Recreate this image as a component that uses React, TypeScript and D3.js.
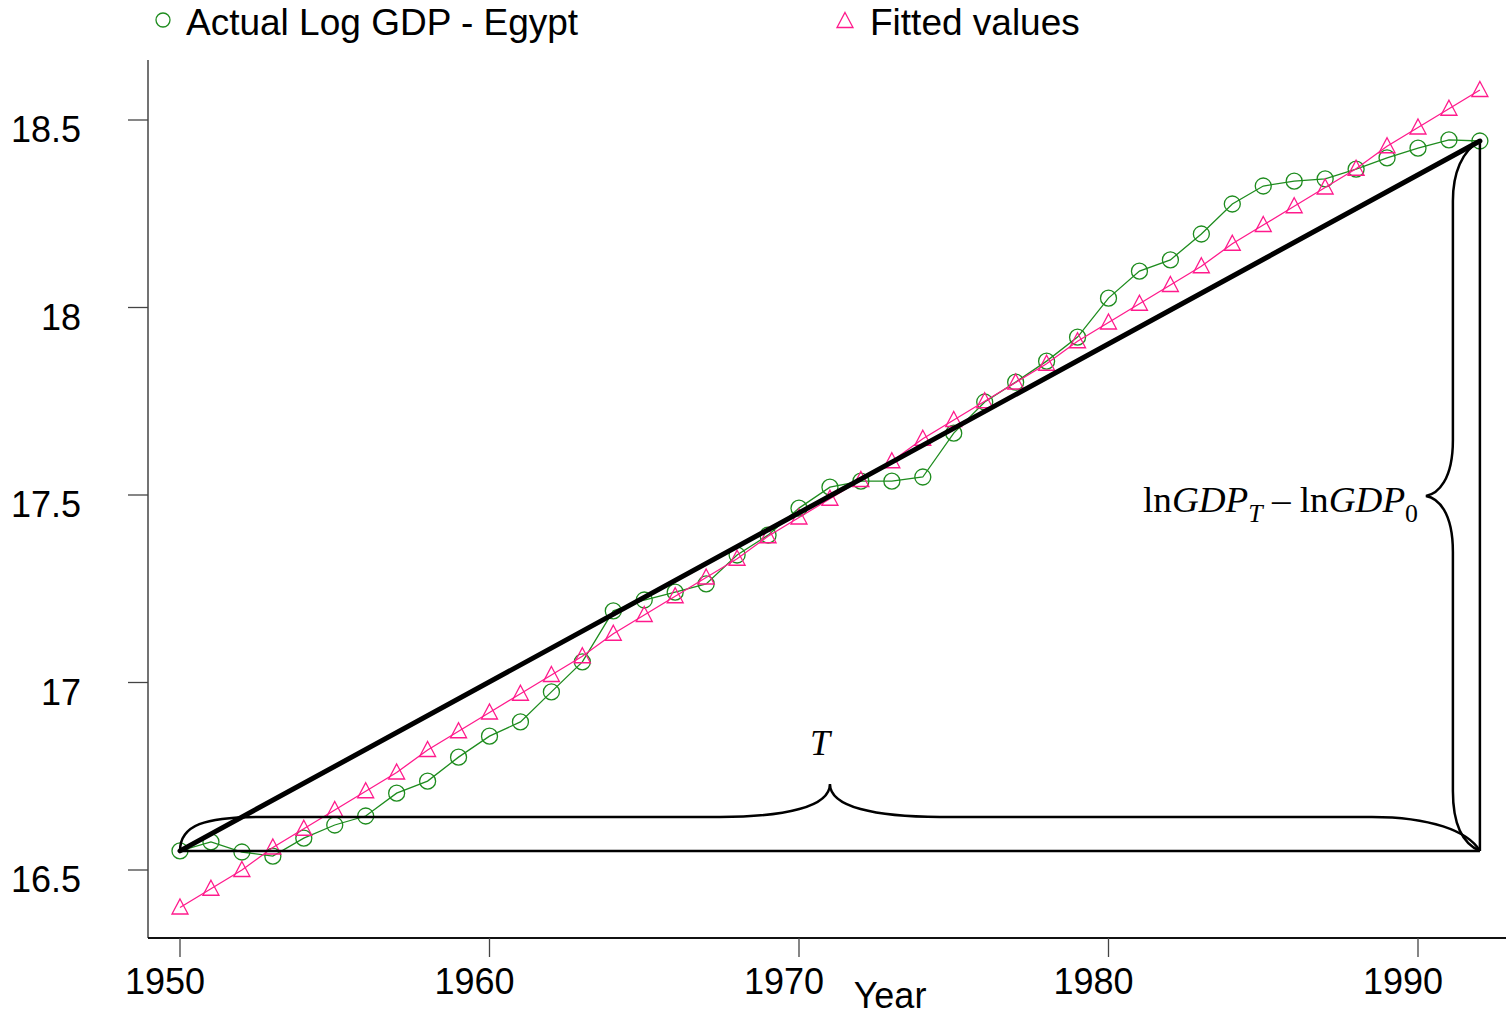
import React from "react";
import * as d3 from "d3";

const years = [1950, 1951, 1952, 1953, 1954, 1955, 1956, 1957, 1958, 1959, 1960, 1961, 1962, 1963, 1964, 1965, 1966, 1967, 1968, 1969, 1970, 1971, 1972, 1973, 1974, 1975, 1976, 1977, 1978, 1979, 1980, 1981, 1982, 1983, 1984, 1985, 1986, 1987, 1988, 1989, 1990, 1991, 1992];

const actualLogGDP = [16.551, 16.575, 16.548, 16.537, 16.585, 16.62, 16.644, 16.705, 16.737, 16.801, 16.857, 16.895, 16.975, 17.055, 17.191, 17.22, 17.241, 17.263, 17.34, 17.393, 17.465, 17.521, 17.537, 17.537, 17.548, 17.665, 17.748, 17.801, 17.857, 17.921, 18.025, 18.097, 18.127, 18.196, 18.276, 18.324, 18.337, 18.343, 18.369, 18.399, 18.425, 18.447, 18.444];

const fittedValues = [16.40, 16.45, 16.50, 16.56, 16.61, 16.66, 16.71, 16.76, 16.82, 16.87, 16.92, 16.97, 17.02, 17.07, 17.13, 17.18, 17.23, 17.28, 17.33, 17.39, 17.44, 17.49, 17.54, 17.59, 17.65, 17.70, 17.75, 17.80, 17.85, 17.91, 17.96, 18.01, 18.06, 18.11, 18.17, 18.22, 18.27, 18.32, 18.37, 18.43, 18.48, 18.53, 18.58];

const xTicks = [1950, 1960, 1970, 1980, 1990];
const yTicks = [16.5, 17, 17.5, 18, 18.5];
const yTickLabels = ["16.5", "17", "17.5", "18", "18.5"];
const legendLabels = ["Actual Log GDP - Egypt", "Fitted values"];
const xTitle = "Year";

const GREEN = "#1e8c1e";
const PINK = "#ff1a8c";
const SANS = "'Liberation Sans', Arial, Helvetica, sans-serif";
const SERIF = "'Liberation Serif', 'Times New Roman', serif";

function triPath(cx: number, cy: number) {
  return `M${cx},${cy - 8.5} L${cx + 8},${cy + 6.5} L${cx - 8},${cy + 6.5} Z`;
}

export default function App() {
  const W = 1506;
  const H = 1015;
  const x = d3.scaleLinear().domain([1950, 1990]).range([180, 1418]);
  const y = d3.scaleLinear().domain([16.5, 18.5]).range([870, 120]);

  const axisLeftX = 148;
  const axisBottomY = 938;
  const axisTopY = 60;

  const actualPts = years.map((yr, i) => [x(yr), y(actualLogGDP[i])] as [number, number]);
  const fittedPts = years.map((yr, i) => [x(yr), y(fittedValues[i])] as [number, number]);
  const line = d3.line<[number, number]>();

  const n = years.length - 1;
  const x0 = x(years[0]);
  const x1 = x(years[n]);
  const y0 = y(actualLogGDP[0]);
  const y1 = y(actualLogGDP[n]);

  // horizontal brace (below thick line, pointing up)
  const xc = (x0 + x1) / 2;
  const yf = y0 - 34;
  const ym = y0 - 67;
  const hBrace =
    `M${x0},${y0} C${x0},${y0 - 26} ${x0 + 25},${yf} ${x0 + 80},${yf} ` +
    `L${xc - 110},${yf} C${xc - 45},${yf} ${xc},${yf - 10} ${xc},${ym} ` +
    `C${xc},${yf - 10} ${xc + 45},${yf} ${xc + 110},${yf} ` +
    `L${x1 - 108},${yf} C${x1 - 50},${yf} ${x1 - 12},${y0 - 20} ${x1},${y0}`;

  // vertical brace (left of vertical line, pointing left)
  const yc = (y0 + y1) / 2;
  const xf = x1 - 27;
  const xm = x1 - 54;
  const vBrace =
    `M${x1},${y1} C${x1 - 18},${y1 + 10} ${xf},${y1 + 32} ${xf},${y1 + 60} ` +
    `L${xf},${yc - 56} C${xf},${yc - 16} ${xm + 12},${yc - 2} ${xm},${yc} ` +
    `C${xm + 12},${yc + 2} ${xf},${yc + 16} ${xf},${yc + 56} ` +
    `L${xf},${y0 - 60} C${xf},${y0 - 22} ${x1 - 14},${y0 - 6} ${x1},${y0}`;

  return (
    <svg
      width={W}
      height={H}
      viewBox={`0 0 ${W} ${H}`}
      style={{ position: "absolute", left: 0, top: 0, background: "#fff" }}
    >
      <rect x={0} y={0} width={W} height={H} fill="#fff" />

      {/* Legend */}
      <circle cx={163} cy={20} r={7} fill="none" stroke={GREEN} strokeWidth={1.3} />
      <text x={186} y={35} fontFamily={SANS} fontSize={37} fill="#000">
        {legendLabels[0]}
      </text>
      <path d={triPath(845, 21)} fill="none" stroke={PINK} strokeWidth={1.3} />
      <text x={870} y={35} fontFamily={SANS} fontSize={37} fill="#000">
        {legendLabels[1]}
      </text>

      {/* Axes */}
      <line x1={axisLeftX} y1={axisTopY} x2={axisLeftX} y2={axisBottomY} stroke="#444" strokeWidth={1.5} />
      <line x1={axisLeftX} y1={axisBottomY} x2={W} y2={axisBottomY} stroke="#111" strokeWidth={1.8} />
      {yTicks.map((t, i) => (
        <g key={"yt" + t}>
          <line x1={128} x2={axisLeftX} y1={y(t)} y2={y(t)} stroke="#444" strokeWidth={1.3} />
          <text x={81} y={y(t) + 22} textAnchor="end" fontFamily={SANS} fontSize={36} fill="#000">
            {yTickLabels[i]}
          </text>
        </g>
      ))}
      {xTicks.map((t) => (
        <g key={"xt" + t}>
          <line x1={x(t)} x2={x(t)} y1={axisBottomY} y2={axisBottomY + 19} stroke="#444" strokeWidth={1.3} />
          <text x={x(t) - 15} y={994} textAnchor="middle" fontFamily={SANS} fontSize={36} fill="#000">
            {t}
          </text>
        </g>
      ))}
      <text x={890} y={1008} textAnchor="middle" fontFamily={SANS} fontSize={36} fill="#000">
        {xTitle}
      </text>

      {/* Series */}
      <path d={line(actualPts) || ""} fill="none" stroke={GREEN} strokeWidth={1.3} />
      {actualPts.map(([px, py], i) => (
        <circle key={"a" + i} cx={px} cy={py} r={8} fill="none" stroke={GREEN} strokeWidth={1.3} />
      ))}
      <path d={line(fittedPts) || ""} fill="none" stroke={PINK} strokeWidth={1.3} />
      {fittedPts.map(([px, py], i) => (
        <path key={"f" + i} d={triPath(px, py)} fill="none" stroke={PINK} strokeWidth={1.3} />
      ))}

      {/* Annotation: triangle */}
      <line x1={x0} y1={y0} x2={x1} y2={y0} stroke="#000" strokeWidth={2.5} />
      <line x1={x1} y1={y1} x2={x1} y2={y0} stroke="#000" strokeWidth={2.5} />
      <path d={hBrace} fill="none" stroke="#000" strokeWidth={2.5} />
      <path d={vBrace} fill="none" stroke="#000" strokeWidth={2.5} />
      <line x1={x0} y1={y0} x2={x1} y2={y1} stroke="#000" strokeWidth={5} strokeLinecap="round" />

      <text x={xc - 10} y={755} textAnchor="middle" fontFamily={SERIF} fontStyle="italic" fontSize={36} fill="#000">
        T
      </text>
      <text
        x={1418}
        y={512}
        textAnchor="end"
        fontFamily={SERIF}
        fontSize={36}
        fill="#000"
        textLength={275}
        lengthAdjust="spacingAndGlyphs"
      >
        <tspan>ln</tspan>
        <tspan fontStyle="italic">GDP</tspan>
        <tspan fontStyle="italic" fontSize={25} dy={10}>T</tspan>
        <tspan dy={-10}> – ln</tspan>
        <tspan fontStyle="italic">GDP</tspan>
        <tspan fontSize={25} dy={10}>0</tspan>
      </text>
    </svg>
  );
}
